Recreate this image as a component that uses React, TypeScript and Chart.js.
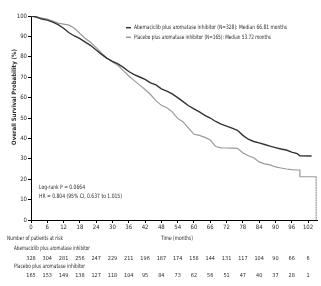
import React, { useEffect, useRef } from "react";
import { Chart, registerables } from "chart.js";
Chart.register(...registerables);

const abemaMonths = [0, 2, 4, 6, 8, 10, 12, 14, 16, 18, 20, 22, 24, 26, 28, 30, 32, 34, 36, 38, 40, 42, 44, 46, 48, 50, 52, 54, 56, 58, 60, 62, 64, 66, 68, 70, 72, 74, 76, 78, 80, 82, 84, 86, 88, 90, 92, 94, 96, 98, 99, 103.3];
const abemaSurvival = [100, 99.5, 98.5, 98, 97, 95.8, 94, 91.8, 90.2, 88.9, 87.2, 85.5, 83.3, 81.2, 79.2, 77.8, 76.5, 74.8, 72.8, 71.3, 70.1, 68.9, 67.2, 66.2, 64.3, 63.2, 61.8, 60, 58, 56, 54.5, 53, 51.3, 50, 48.3, 47, 46, 45, 44, 41.5, 39.6, 38.5, 37.8, 37, 36.2, 35.5, 34.8, 34.3, 33.3, 32.5, 31.5, 31.4];

const placeboMonths = [0, 2, 4, 6, 8, 10, 12, 14, 16, 18, 20, 22, 24, 26, 28, 30, 32, 34, 36, 38, 40, 42, 44, 46, 48, 50, 52, 54, 56, 58, 60, 62, 64, 66, 68, 70, 72, 74, 76, 78, 80, 82, 84, 86, 88, 90, 92, 94, 96, 98, 99, 99, 105, 105];
const placeboSurvival = [100, 99.5, 99, 98.5, 97.5, 96.5, 96, 95.5, 94, 91.4, 89, 87, 84.5, 81.8, 79.3, 77.5, 75.8, 73.2, 70.6, 68.3, 66.1, 64, 61.5, 58.5, 56.2, 55, 53, 49.8, 48.1, 45, 42, 41.5, 40.5, 39.2, 36, 35.4, 35.3, 35.2, 35.1, 33, 31.5, 30.5, 28.5, 27.5, 27, 26, 25.5, 25, 24.7, 24.5, 24.5, 21.2, 21.2, 0];

const xTicks = [0, 6, 12, 18, 24, 30, 36, 42, 48, 54, 60, 66, 72, 78, 84, 90, 96, 102];
const abemaAtRisk = [328, 304, 281, 256, 247, 229, 211, 196, 187, 174, 158, 144, 131, 117, 104, 90, 66, 6];
const placeboAtRisk = [165, 153, 149, 138, 127, 118, 104, 95, 84, 73, 62, 56, 51, 47, 40, 37, 28, 1];

const legendLabels = [
  "Abemaciclib plus aromatase inhibitor (N=328): Median 66.81 months",
  "Placebo plus aromatase inhibitor (N=165): Median 53.72 months",
];
const statsLines = ["Log-rank P = 0.0664", "HR = 0.804 (95% CI, 0.637 to 1.015)"];
const yTitle = "Overall Survival Probability (%)";
const xTitle = "Time (months)";
const riskTitle = "Number of patients at risk";
const riskRowLabels = ["Abemaciclib plus aromatase inhibitor", "Placebo plus aromatase inhibitor"];

const FONT = "'Liberation Sans Narrow', 'DejaVu Sans Condensed', 'Liberation Sans', sans-serif";
const DARK = "#333333";
const LIGHT = "#9a9a9a";
const TEXT = "#2a2a2a";

const overlayPlugin = {
  id: "overlay",
  afterDraw(chart: any) {
    const ctx = chart.ctx as CanvasRenderingContext2D;
    const xs = chart.scales.x;
    ctx.save();
    ctx.fillStyle = TEXT;
    ctx.textBaseline = "middle";

    // y title
    ctx.save();
    ctx.translate(14, 97);
    ctx.rotate(-Math.PI / 2);
    ctx.textAlign = "center";
    ctx.font = `bold 6px ${FONT}`;
    ctx.fillText(yTitle, 0, 0, 112);
    ctx.restore();

    // legend
    ctx.font = `6px ${FONT}`;
    ctx.textAlign = "left";
    const legY = [27.7, 37.3];
    const legCol = [DARK, LIGHT];
    legendLabels.forEach((t, i) => {
      ctx.strokeStyle = legCol[i];
      ctx.lineWidth = 1.5;
      ctx.beginPath();
      ctx.moveTo(126, legY[i]);
      ctx.lineTo(131, legY[i]);
      ctx.stroke();
      ctx.fillStyle = TEXT;
      ctx.fillText(t, 134, legY[i], i === 0 ? 153 : 137);
    });

    // stats
    ctx.fillText(statsLines[0], 39, 187, 46);
    ctx.fillText(statsLines[1], 39, 196, 83);

    // x title
    ctx.textAlign = "center";
    ctx.fillText(xTitle, 177, 238, 32);

    // risk table
    ctx.textAlign = "left";
    ctx.fillText(riskTitle, 7, 238, 56);
    ctx.fillText(riskRowLabels[0], 14, 248, 76);
    ctx.fillText(riskRowLabels[1], 14, 266, 71);
    ctx.textAlign = "center";
    ctx.font = `5.5px ${FONT}`;
    xTicks.forEach((m, i) => {
      const px = xs.getPixelForValue(m);
      ctx.fillText(String(abemaAtRisk[i]), px, 258.5);
      ctx.fillText(String(placeboAtRisk[i]), px, 275.5);
    });
    ctx.restore();
  },
};

export default function App() {
  const ref = useRef<HTMLCanvasElement>(null);
  useEffect(() => {
    if (!ref.current) return;
    const lastP = placeboMonths.length - 1;
    const chart = new Chart(ref.current, {
      type: "line",
      data: {
        datasets: [
          {
            label: legendLabels[0],
            data: abemaMonths.map((m, i) => ({ x: m, y: abemaSurvival[i] })),
            borderColor: DARK,
            borderWidth: 1.4,
            pointRadius: 0,
            tension: 0,
            fill: false,
          },
          {
            label: legendLabels[1],
            data: placeboMonths.map((m, i) => ({ x: m, y: placeboSurvival[i] })),
            borderColor: LIGHT,
            borderWidth: 1.2,
            pointRadius: 0,
            tension: 0,
            fill: false,
            segment: {
              borderDash: (c: any) => (c.p1DataIndex === lastP ? [1, 1.5] : undefined),
            },
          },
        ],
      },
      options: {
        responsive: false,
        animation: false,
        layout: { padding: { top: 16, right: 4, bottom: 52, left: 0 } },
        plugins: { legend: { display: false }, tooltip: { enabled: false } },
        scales: {
          x: {
            type: "linear",
            min: 0,
            max: 105.3,
            afterFit: (s: any) => {
              s.height = 14;
            },
            ticks: {
              stepSize: 6,
              includeBounds: false,
              autoSkip: false,
              maxRotation: 0,
              padding: 1,
              color: TEXT,
              font: { size: 6, family: FONT },
            },
            grid: { drawOnChartArea: false, drawTicks: true, tickLength: 3, color: "#000" },
            border: { color: "#000", width: 1 },
          },
          y: {
            min: 0,
            max: 100,
            afterFit: (s: any) => {
              s.width = 31;
            },
            ticks: {
              stepSize: 10,
              padding: 1,
              color: TEXT,
              font: { size: 6, family: FONT },
            },
            grid: { drawOnChartArea: false, drawTicks: true, tickLength: 3, color: "#000" },
            border: { color: "#000", width: 1 },
          },
        },
      },
      plugins: [overlayPlugin],
    });
    return () => chart.destroy();
  }, []);
  return (
    <div style={{ position: "fixed", left: 0, top: 0, width: 321, height: 286, background: "#fff" }}>
      <canvas ref={ref} width={321} height={286} />
    </div>
  );
}
